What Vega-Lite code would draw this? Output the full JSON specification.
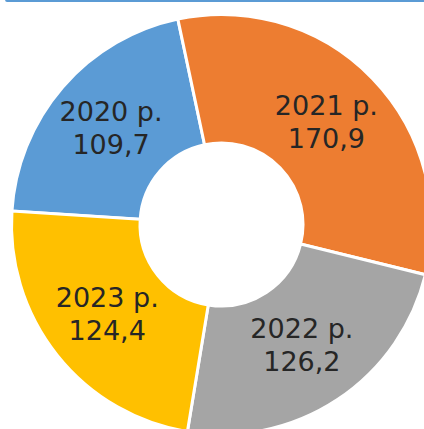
{
  "$schema": "https://vega.github.io/schema/vega-lite/v6.json",
  "autosize": "none",
  "padding": 0,
  "width": 443,
  "height": 449,
  "background": "white",
  "config": {"view": {"stroke": null}},
  "data": {"values": [
    {"year": "2020", "value": 109.7},
    {"year": "2021", "value": 170.9},
    {"year": "2022", "value": 126.2},
    {"year": "2023", "value": 124.4}
  ]},
  "transform": [
    {"calculate": "[datum.year + ' p.', replace(format(datum.value, '.1f'), '.', ',')]", "as": "label"}
  ],
  "encoding": {
    "theta": {"field": "value", "type": "quantitative", "stack": true, "scale": {"range": [-1.5069, 4.7763]}},
    "order": {"field": "year", "type": "ordinal", "sort": "ascending"}
  },
  "layer": [
    {
      "mark": {"type": "arc", "innerRadius": 81.5, "outerRadius": 210, "stroke": "white", "strokeWidth": 3},
      "encoding": {
        "color": {"field": "year", "type": "nominal", "legend": null,
          "scale": {"domain": ["2020", "2021", "2022", "2023"], "range": ["#5B9BD5", "#ED7D31", "#A5A5A5", "#FFC000"]}}
      }
    },
    {
      "mark": {"type": "text", "radius": 146, "font": "DejaVu Sans", "fontSize": 27, "lineHeight": 33, "align": "center", "baseline": "middle", "dy": -16, "color": "#262626"},
      "encoding": {"text": {"field": "label"}}
    },
    {
      "data": {"values": [{}]},
      "mark": {"type": "rule", "color": "#5B9BD5", "strokeWidth": 4, "strokeCap": "round"},
      "encoding": {
        "x": {"datum": 0.016, "type": "quantitative", "scale": {"domain": [0, 1]}, "axis": null},
        "x2": {"datum": 1.05},
        "y": {"datum": 1, "type": "quantitative", "scale": {"domain": [0, 1]}, "axis": null}
      }
    }
  ]
}
